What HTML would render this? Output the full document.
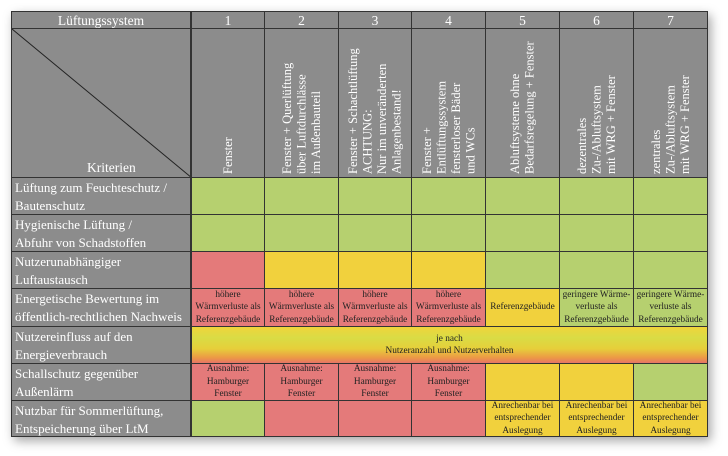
<!DOCTYPE html>
<html><head><meta charset="utf-8"><style>
body{margin:0;background:#fff;width:728px;height:456px;overflow:hidden;position:relative;font-family:"Liberation Serif",serif}
#t{position:absolute;left:11px;top:11px;width:697px;height:426px;box-shadow:3px 4px 10px rgba(0,0,0,.35);background:#8c8c8c}
.c{position:absolute;box-sizing:border-box;border-right:1px solid #333;border-bottom:1px solid #333;overflow:hidden}
.g{background:#8c8c8c;color:#fff}
.gr{background:#b6d06f}.ye{background:#f1d13d}.re{background:#e47a7a}
.hd{font-size:13.5px;text-align:center;line-height:17px}
.lab{font-size:13px;line-height:18px;padding:1px 0 0 3px;white-space:nowrap}
.v{display:flex;align-items:center;justify-content:center}
.v div{writing-mode:vertical-rl;transform:rotate(180deg);font-size:12.5px;line-height:14.5px;height:142px;text-align:left;white-space:nowrap}
.s{font-size:9.3px;line-height:12.5px;color:#222;text-align:center;display:flex;align-items:center;justify-content:center;white-space:nowrap}
</style></head><body>
<div id="t"></div>
<div class="c g hd" style="left:11px;top:11px;width:180px;height:18px;border-left:1px solid #333;border-top:1px solid #333">Lüftungssystem</div>
<div class="c g hd" style="left:191px;top:11px;width:74px;height:18px;border-top:1px solid #333;border-left:1px solid #333">1</div>
<div class="c g hd" style="left:265px;top:11px;width:74px;height:18px;border-top:1px solid #333">2</div>
<div class="c g hd" style="left:339px;top:11px;width:73px;height:18px;border-top:1px solid #333">3</div>
<div class="c g hd" style="left:412px;top:11px;width:74px;height:18px;border-top:1px solid #333">4</div>
<div class="c g hd" style="left:486px;top:11px;width:74px;height:18px;border-top:1px solid #333">5</div>
<div class="c g hd" style="left:560px;top:11px;width:74px;height:18px;border-top:1px solid #333">6</div>
<div class="c g hd" style="left:634px;top:11px;width:74px;height:18px;border-top:1px solid #333">7</div>

<div class="c g" style="left:11px;top:29px;width:180px;height:149px;border-left:1px solid #333">
<svg width="180" height="149" style="position:absolute;left:0;top:0"><line x1="0" y1="0" x2="180" y2="149" stroke="#222" stroke-width="1"/></svg>
<div style="position:absolute;left:75px;top:131px;font-size:13.5px">Kriterien</div></div>
<div class="c g v" style="left:191px;top:29px;width:74px;height:149px;border-left:1px solid #333"><div>Fenster</div></div>
<div class="c g v" style="left:265px;top:29px;width:74px;height:149px"><div>Fenster + Querlüftung<br>über Luftdurchlässe<br>im Außenbauteil</div></div>
<div class="c g v" style="left:339px;top:29px;width:73px;height:149px"><div>Fenster + Schachtlüftung<br>ACHTUNG:<br>Nur im unveränderten<br>Anlagenbestand!</div></div>
<div class="c g v" style="left:412px;top:29px;width:74px;height:149px"><div>Fenster +<br>Entlüftungssystem<br>fensterloser Bäder<br>und WCs</div></div>
<div class="c g v" style="left:486px;top:29px;width:74px;height:149px"><div>Abluftsysteme ohne<br>Bedarfsregelung + Fenster</div></div>
<div class="c g v" style="left:560px;top:29px;width:74px;height:149px"><div>dezentrales<br>Zu-/Abluftsystem<br>mit WRG + Fenster</div></div>
<div class="c g v" style="left:634px;top:29px;width:74px;height:149px"><div>zentrales<br>Zu-/Abluftsystem<br>mit WRG + Fenster</div></div>

<div id="rows"></div>
<script>
var xs=[191,265,339,412,486,560,634,708];
var ys=[178,215,252,289,327,364,401,437];
var labs=["Lüftung zum Feuchteschutz /<br>Bautenschutz","Hygienische Lüftung /<br>Abfuhr von Schadstoffen","Nutzerunabhängiger<br>Luftaustausch","Energetische Bewertung im<br>öffentlich-rechtlichen Nachweis","Nutzereinfluss auf den<br>Energieverbrauch","Schallschutz gegenüber<br>Außenlärm","Nutzbar für Sommerlüftung,<br>Entspeicherung über LtM"];
var H="höhere<br>Wärmverluste als<br>Referenzgebäude",G="geringere Wärme-<br>verluste als<br>Referenzgebäude",A="Ausnahme:<br>Hamburger<br>Fenster",B="Anrechenbar bei<br>entsprechender<br>Auslegung";
var cells=[
[["gr"],["gr"],["gr"],["gr"],["gr"],["gr"],["gr"]],
[["gr"],["gr"],["gr"],["gr"],["gr"],["gr"],["gr"]],
[["re"],["ye"],["ye"],["ye"],["gr"],["gr"],["gr"]],
[["re",H],["re",H],["re",H],["re",H],["ye","Referenzgebäude"],["gr",G],["gr",G]],
null,
[["re",A],["re",A],["re",A],["re",A],["ye"],["ye"],["gr"]],
[["gr"],["re"],["re"],["re"],["ye",B],["ye",B],["ye",B]]];
var h="";
for(var r=0;r<7;r++){var y=ys[r],hh=ys[r+1]-y;
h+='<div class="c g lab" style="left:11px;top:'+y+'px;width:180px;height:'+hh+'px;border-left:1px solid #333">'+labs[r]+'</div>';
if(!cells[r]){h+='<div class="c s" style="left:191px;top:'+y+'px;width:517px;height:'+hh+'px;border-left:1px solid #333;background:linear-gradient(#f0d43a 0%,#d9dc45 30%,#e6cf3a 60%,#ec9a45 85%,#e77466 100%)">je nach<br>Nutzeranzahl und Nutzerverhalten</div>';continue;}
for(var c=0;c<7;c++){var d=cells[r][c];
h+='<div class="c s '+d[0]+'" style="left:'+xs[c]+'px;top:'+y+'px;width:'+(xs[c+1]-xs[c])+'px;height:'+hh+'px;'+(c==0?'border-left:1px solid #333;':'')+'">'+(d[1]||'')+'</div>';}}
document.getElementById('rows').innerHTML=h;
</script>
</body></html>
